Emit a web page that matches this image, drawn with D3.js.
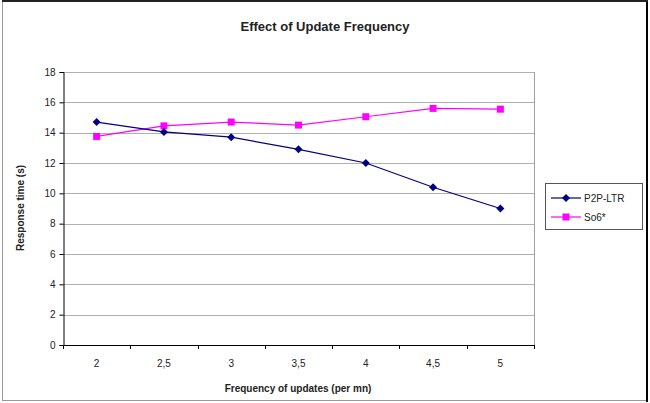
<!DOCTYPE html>
<html><head><meta charset="utf-8">
<script src="https://cdn.jsdelivr.net/npm/d3@7"></script>
<style>body{margin:0;background:#fff}svg{display:block}text{font-family:Arial,"Liberation Sans",sans-serif}</style>
</head><body>
<svg id="c" width="650" height="403"></svg>
<script>
const categories = ["2","2,5","3","3,5","4","4,5","5"];
const p2pLtr = [14.7, 14.05, 13.7, 12.9, 12.0, 10.4, 9.0];
const so6 = [13.75, 14.45, 14.7, 14.5, 15.05, 15.6, 15.55];
const yTicks = [0,2,4,6,8,10,12,14,16,18];
const seriesNames = ["P2P-LTR","So6*"];

const svg = d3.select("#c");
const L=63, R=534, T=72, B=345;

// outer frame
svg.append("rect").attr("x",2.5).attr("y",1.5).attr("width",644).attr("height",399)
  .attr("fill","#fff").attr("stroke","#999");
svg.append("line").attr("x1",647).attr("x2",647).attr("y1",1).attr("y2",402).attr("stroke","#000").attr("stroke-width",2);
svg.append("line").attr("x1",2).attr("x2",648).attr("y1",1).attr("y2",1).attr("stroke","#222").attr("stroke-width",2);

const x = d3.scaleBand().domain(categories).range([L,R]);
const y = d3.scaleLinear().domain([0,18]).range([B,T]);

// gridlines
svg.append("g").selectAll("line").data(yTicks.slice(1)).join("line")
  .attr("x1",L).attr("x2",R).attr("y1",d=>Math.round(y(d))+0.5).attr("y2",d=>Math.round(y(d))+0.5)
  .attr("stroke","#b0b0b0").attr("stroke-width",1);
svg.append("line").attr("x1",R+0.5).attr("x2",R+0.5).attr("y1",T).attr("y2",B).attr("stroke","#a0a0a0");

// y axis
const ya = svg.append("g").attr("transform",`translate(${L+0.5},0)`)
  .call(d3.axisLeft(y).tickValues(yTicks).tickSize(4).tickPadding(4).tickFormat(d3.format("d")));
ya.select(".domain").attr("stroke","#000");
ya.selectAll(".tick line").attr("stroke","#000");
ya.selectAll("text").attr("font-size",10).attr("fill","#222").style("font-family","Arial,'Liberation Sans',sans-serif");

// x axis
const xa = svg.append("g").attr("transform",`translate(0,${B+0.5})`)
  .call(d3.axisBottom(x).tickSize(0).tickPadding(14));
xa.select(".domain").attr("stroke","#000").attr("d",`M${L},0H${R+1}`);
xa.selectAll("text").attr("font-size",10).attr("fill","#222").style("font-family","Arial,'Liberation Sans',sans-serif");
const bounds = categories.map(c=>x(c)).concat([R]);
svg.append("g").selectAll("line").data(bounds).join("line")
  .attr("x1",d=>Math.round(d)+0.5).attr("x2",d=>Math.round(d)+0.5).attr("y1",B).attr("y2",B+4)
  .attr("stroke","#000");

const cx = c => x(c)+x.bandwidth()/2;
const line = d3.line().x((d,i)=>cx(categories[i])).y(d=>y(d));
const diamondPath = "M0,-4L4,0L0,4L-4,0Z";

// So6*
svg.append("path").datum(so6).attr("d",line).attr("fill","none").attr("stroke","#ff00ff").attr("stroke-width",1.2);
svg.append("g").selectAll("rect").data(so6).join("rect")
  .attr("x",(d,i)=>cx(categories[i])-3.5).attr("y",d=>y(d)-3.5).attr("width",7).attr("height",7).attr("fill","#ff00ff");
// P2P-LTR
svg.append("path").datum(p2pLtr).attr("d",line).attr("fill","none").attr("stroke","#000080").attr("stroke-width",1.2);
svg.append("g").selectAll("path").data(p2pLtr).join("path")
  .attr("transform",(d,i)=>`translate(${cx(categories[i])},${y(d)})`).attr("d",diamondPath).attr("fill","#000080");

// title
svg.append("text").attr("x",325).attr("y",31).attr("text-anchor","middle").attr("font-size",13).attr("font-weight","bold").attr("fill","#222").text("Effect of Update Frequency");
// axis titles
svg.append("text").attr("x",298).attr("y",392).attr("text-anchor","middle").attr("font-size",10).attr("font-weight","bold").attr("fill","#222").text("Frequency of updates (per mn)");
svg.append("text").attr("transform","translate(24,208) rotate(-90)").attr("text-anchor","middle").attr("font-size",10).attr("font-weight","bold").attr("fill","#222").text("Response time (s)");

// legend
const lg = svg.append("g");
lg.append("rect").attr("x",545.5).attr("y",183.5).attr("width",97).attr("height",46).attr("fill","#fff").attr("stroke","#555");
const colors = ["#000080","#ff00ff"];
seriesNames.forEach((n,i)=>{
  const yy = 198 + i*19;
  lg.append("line").attr("x1",551).attr("x2",581).attr("y1",yy).attr("y2",yy).attr("stroke",colors[i]).attr("stroke-width",1.2);
  if(i===0) lg.append("path").attr("transform",`translate(566,${yy})`).attr("d",diamondPath).attr("fill",colors[i]);
  else lg.append("rect").attr("x",562.5).attr("y",yy-3.5).attr("width",7).attr("height",7).attr("fill",colors[i]);
  lg.append("text").attr("x",584).attr("y",yy+3.5).attr("font-size",10).attr("fill","#222").text(n);
});
</script>
</body></html>
